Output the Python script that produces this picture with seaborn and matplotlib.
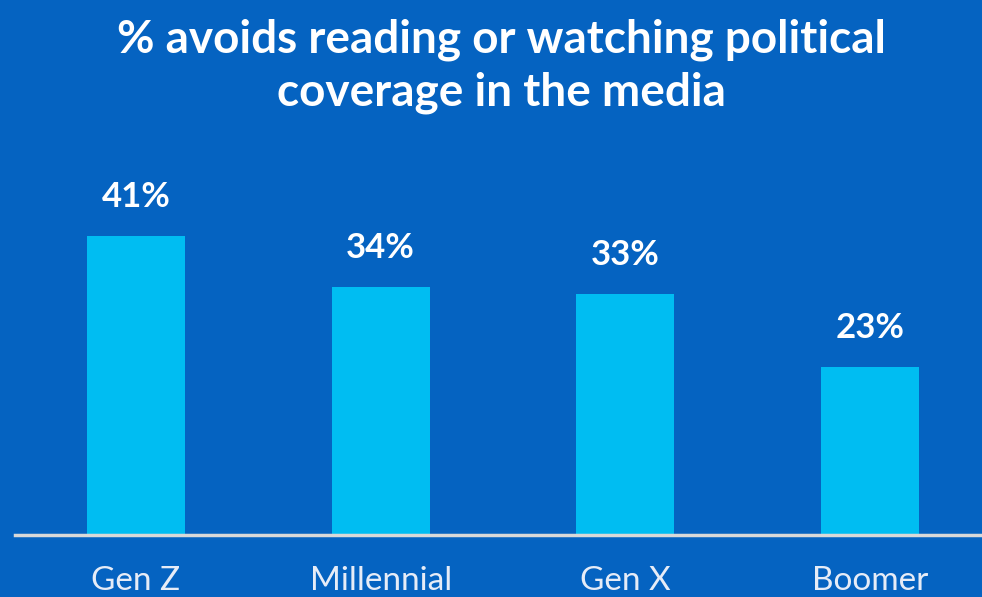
import matplotlib
matplotlib.use('Agg')
import matplotlib.pyplot as plt
import seaborn as sns
import pandas as pd

# данные
generations = ['Gen Z', 'Millennial', 'Gen X', 'Boomer']
avoid_pct = [41, 34, 33, 23]

bg = '#0563c1'
bar_color = '#00bdf2'

sns.set_style('white')
plt.rcParams['font.family'] = ['Lato', 'DejaVu Sans']

df = pd.DataFrame({'generation': generations, 'pct': avoid_pct})

fig = plt.figure(figsize=(9.82, 5.97), dpi=100, facecolor=bg)
ax = fig.add_axes([15 / 982, 62 / 597, 967 / 982, 364.5 / 597])
ax.set_facecolor(bg)

sns.barplot(data=df, x='generation', y='pct', color=bar_color, width=0.4,
            saturation=1, linewidth=0, ax=ax)

ax.set_xlim(-0.494, 3.457)
ax.set_ylim(0, 50)

for i, v in enumerate(avoid_pct):
    ax.text(i, v + 5.4, f'{v}%', ha='center', va='center', color='white',
            fontsize=25, fontweight='bold')

for s in ['top', 'right', 'left']:
    ax.spines[s].set_visible(False)
ax.spines['bottom'].set_color('#d9d9d9')
ax.spines['bottom'].set_linewidth(2.5)

ax.set_yticks([])
ax.set_xlabel('')
ax.set_ylabel('')
ax.tick_params(axis='x', length=0, pad=22, labelsize=24, labelcolor='#e6ecf7')

fig.text(0.511, 0.8894, '% avoids reading or watching political\ncoverage in the media',
         ha='center', va='center', color='white', fontsize=33, fontweight='bold',
         linespacing=1.3)

fig.savefig('out.png', dpi=100, facecolor=bg)
